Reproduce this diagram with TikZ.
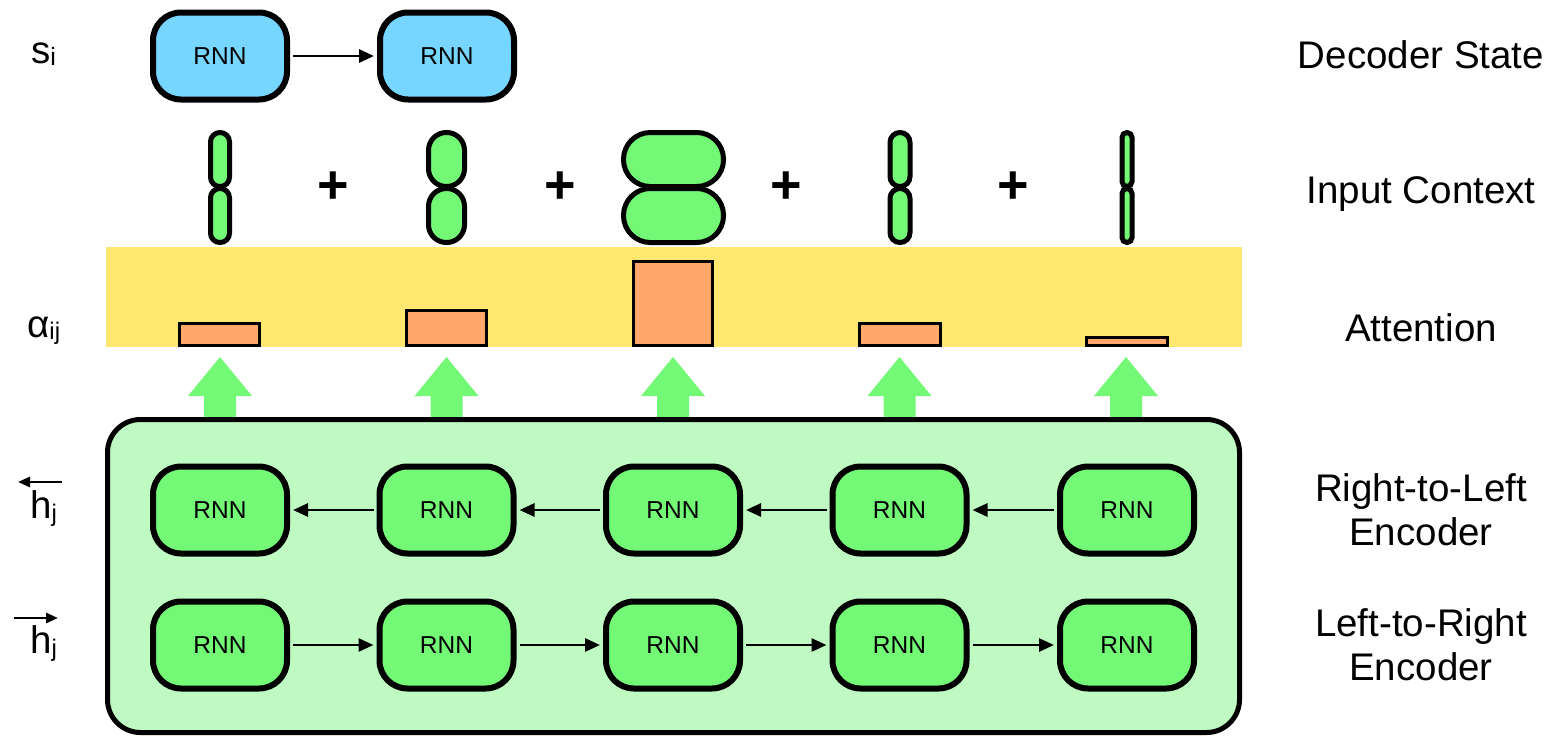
\documentclass[tikz,border=0pt]{standalone}
\usepackage{fontspec}
\setmainfont{Liberation Sans}
\usetikzlibrary{arrows.meta}
\definecolor{decblue}{HTML}{76D6FF}
\definecolor{rnngreen}{HTML}{74F977}
\definecolor{encbg}{HTML}{C0FAC3}
\definecolor{attyellow}{HTML}{FFE86F}
\definecolor{barorange}{HTML}{FFA869}
\begin{document}
\begin{tikzpicture}[x=1pt,y=-1pt,
  rnnbox/.style={draw=black, line width=6pt, rounded corners=28pt, minimum width=134pt, minimum height=87pt, inner sep=0pt, fill=rnngreen, font=\fontsize{24.5}{28}\selectfont},
  decbox/.style={rnnbox, fill=decblue},
  conn/.style={line width=2.8pt, -{Triangle[length=15pt,width=13pt]}, shorten >=3pt, shorten <=3pt},
  barbox/.style={draw=black, line width=3pt, fill=barorange},
  pill/.style={draw=black, line width=5pt, fill=rnngreen},
  plussign/.style={font=\fontsize{54}{54}\selectfont\bfseries, inner sep=0pt},
  biglabel/.style={font=\fontsize{38.5}{44}\selectfont, align=center, inner sep=0pt},
  smalllabel/.style={font=\fontsize{38.5}{44}\selectfont, inner sep=0pt, anchor=base west},
  sidearrow/.style={line width=2.8pt, -{Triangle[length=12pt,width=10pt]}}
]
\useasboundingbox (0,0) rectangle (1552,737);

% attention band
\node[fill=attyellow, minimum width=1136pt, minimum height=100pt, inner sep=0pt] (att) at (674,297) {};

% attention bars
\draw[barbox] (179.5,323.5) rectangle (259.5,345.5);
\draw[barbox] (406.5,310.5) rectangle (486.5,345.5);
\draw[barbox] (633.5,261.5) rectangle (712.5,345.5);
\draw[barbox] (859.5,323.5) rectangle (940.5,345.5);
\draw[barbox] (1086.5,337.5) rectangle (1167.5,345.5);

% input context pills
\foreach \x/\w/\r in {220/19/9.4, 446.5/36/17.8, 673.5/100/26.8, 900/20/9.9, 1127/10/4.9}{
  \draw[pill, rounded corners=\r pt] (\x-\w/2,132.5) rectangle (\x+\w/2,186.5);
  \draw[pill, rounded corners=\r pt] (\x-\w/2,188.5) rectangle (\x+\w/2,242.5);
}

% plus signs
\node[plussign] (p1) at (333,188) {+};
\node[plussign] (p2) at (560,188) {+};
\node[plussign] (p3) at (786,188) {+};
\node[plussign] (p4) at (1013,188) {+};

% up arrows
\foreach \x in {220,446.5,673,899.5,1126}{
  \fill[rnngreen] (\x,357) -- (\x+32,396) -- (\x+16,396) -- (\x+16,420) -- (\x-16,420) -- (\x-16,396) -- (\x-32,396) -- cycle;
}

% encoder container
\node[draw=black, line width=5pt, fill=encbg, rounded corners=33pt, minimum width=1132pt, minimum height=313pt, inner sep=0pt] (enc) at (673.5,576) {};

% decoder
\node[decbox] (d1) at (220,56) {RNN};
\node[decbox] (d2) at (447,56) {RNN};
\draw[conn] (d1) -- (d2);

% encoders
\foreach \i/\x in {1/220,2/446.5,3/673,4/899.5,5/1127}{
  \node[rnnbox] (r\i) at (\x,510) {RNN};
  \node[rnnbox] (l\i) at (\x,645) {RNN};
}
\foreach \a/\b in {2/1,3/2,4/3,5/4}{
  \draw[conn] (r\a) -- (r\b);
  \draw[conn] (l\b) -- (l\a);
}

% left labels
\node[smalllabel] (si) at (31,63) {s\raisebox{-2pt}{\fontsize{25}{25}\selectfont i}};
\node[smalllabel] (aij) at (27,337) {α\raisebox{-2pt}{\fontsize{24}{24}\selectfont ij}};
\node[smalllabel] (hl) at (30,518) {h\raisebox{-3pt}{\fontsize{24}{24}\selectfont j}};
\node[smalllabel] (hr) at (30,653) {h\raisebox{-3pt}{\fontsize{24}{24}\selectfont j}};
\coordinate (hla) at (62,482);
\coordinate (hlb) at (18,482);
\coordinate (hra) at (14,618);
\coordinate (hrb) at (58,618);
\draw[sidearrow] (hla) -- (hlb);
\draw[sidearrow] (hra) -- (hrb);

% right labels
\node[biglabel, anchor=base] (lds) at (1421,68) {Decoder State};
\node[biglabel, anchor=base] (lic) at (1421,203) {Input Context};
\node[biglabel, anchor=base] (lat) at (1421,341) {Attention};
\node[biglabel] (lrl) at (1421,510) {Right-to-Left\\Encoder};
\node[biglabel] (llr) at (1421,645) {Left-to-Right\\Encoder};
\end{tikzpicture}
\end{document}
